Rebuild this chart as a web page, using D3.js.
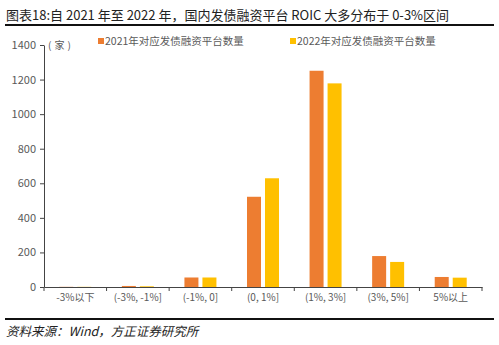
<!DOCTYPE html>
<html><head><meta charset="utf-8">
<script src="https://cdn.jsdelivr.net/npm/d3@7"></script>
<style>body{margin:0;background:#fff}svg{display:block}</style>
</head><body>
<script>
const categories = ["-3%以下","(-3%, -1%]","(-1%, 0]","(0, 1%]","(1%, 3%]","(3%, 5%]","5%以上"];
const series2021 = [1, 6, 55, 522, 1251, 179, 58];
const series2022 = [1, 4, 55, 629, 1178, 145, 54];
const seriesNames = ["2021年对应发债融资平台数量","2022年对应发债融资平台数量"];
const yTicks = [0,200,400,600,800,1000,1200,1400];
const colors = ["#ED7D31","#FFC000"];

const W=499,H=345;
const svg=d3.select("body").append("svg").attr("width",W).attr("height",H);
const font="'Noto Sans CJK SC','Noto Sans',sans-serif";

svg.append("text").attr("x",6).attr("y",20).attr("font-family",font).attr("font-size",13)
  .attr("fill","#222").text("图表18:自 2021 年至 2022 年，国内发债融资平台 ROIC 大多分布于 0-3%区间");
svg.append("line").attr("x1",5).attr("x2",494).attr("y1",25).attr("y2",25).attr("stroke","#111").attr("stroke-width",2);
svg.append("line").attr("x1",5).attr("x2",494).attr("y1",319).attr("y2",319).attr("stroke","#111").attr("stroke-width",2);
svg.append("text").attr("x",6).attr("y",336).attr("font-family",font).attr("font-size",12.5)
  .attr("font-style","italic").attr("fill","#222").text("资料来源：Wind，方正证券研究所");

const x=d3.scaleBand().domain(categories).range([44,482]);
const y=d3.scaleLinear().domain([0,1400]).range([287,45]);

const yAxis=svg.append("g").attr("transform","translate(44,0)")
  .call(d3.axisLeft(y).tickValues(yTicks).tickSize(4).tickSizeOuter(0).tickFormat(d3.format("d")));
yAxis.selectAll("text").attr("font-family",font).attr("font-size",11).attr("fill","#595959").attr("x",-8);
yAxis.select(".domain").attr("stroke","#444");
yAxis.selectAll(".tick line").attr("stroke","#444");

const xAxis=svg.append("g").attr("transform","translate(0,287)")
  .call(d3.axisBottom(x).tickSize(0).tickSizeOuter(0));
xAxis.select(".domain").attr("stroke","#444");
xAxis.selectAll("text").attr("font-family",font).attr("font-size",10).attr("fill","#595959").attr("dy","1.1em");
const bounds=categories.map(c=>x(c)).concat([x.range()[1]]);
xAxis.selectAll(".bt").data(bounds).enter().append("line").attr("x1",d=>d).attr("x2",d=>d)
  .attr("y1",0).attr("y2",4).attr("stroke","#444");

const barW=14, gap=4;
[series2021,series2022].forEach((s,i)=>{
  svg.append("g").selectAll("rect").data(s).enter().append("rect")
    .attr("x",(d,j)=>x(categories[j])+x.bandwidth()/2 + (i===0? -gap/2-barW : gap/2))
    .attr("width",barW)
    .attr("y",d=>y(d)).attr("height",d=>y(0)-y(d)).attr("fill",colors[i]);
});

svg.append("text").attr("x",48).attr("y",49).attr("font-family",font).attr("font-size",10)
  .attr("letter-spacing",3).attr("fill","#595959").text("(家)");

const lx=[98,290];
seriesNames.forEach((n,i)=>{
  svg.append("rect").attr("x",lx[i]).attr("y",38).attr("width",6).attr("height",6).attr("fill",colors[i]);
  svg.append("text").attr("x",lx[i]+7).attr("y",45).attr("font-family",font).attr("font-size",10.5).attr("fill","#595959").text(n);
});
</script>
</body></html>
